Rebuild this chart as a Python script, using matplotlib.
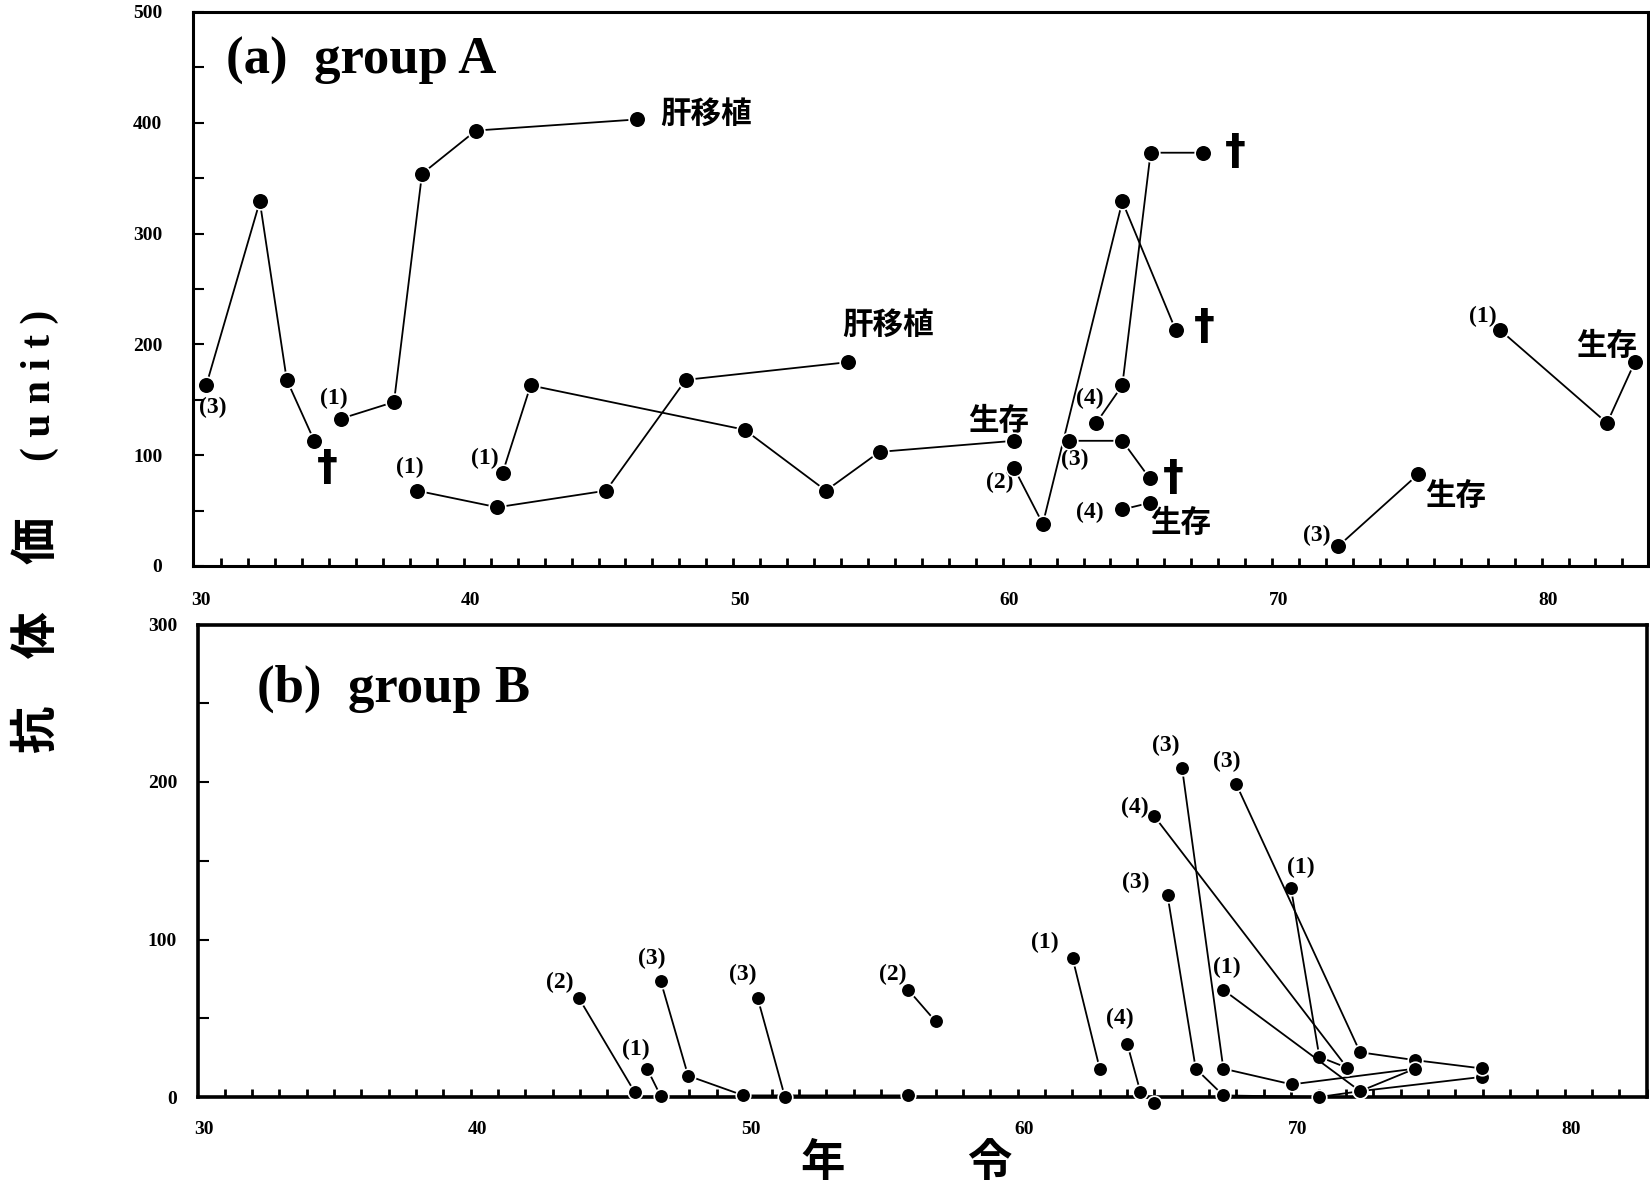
import numpy as np
import matplotlib
matplotlib.use('Agg')
import matplotlib.pyplot as plt

# (a) group A  -- one list per patient
a_ages = [
    [30.19, 32.18, 33.18, 34.2],
    [35.2, 37.16, 38.2, 40.2, 46.16],
    [38.01, 40.99, 45.03, 47.99, 54.02],
    [41.19, 42.23, 50.17, 53.19, 55.18, 60.17],
    [60.18, 61.24, 64.19, 66.17],
    [63.22, 64.19, 65.24, 67.19],
    [62.2, 64.19, 65.21],
    [64.19, 65.21],
    [72.21, 75.18],
    [78.21, 82.18, 83.21],
]
a_vals = [
    [163, 329, 168, 113],
    [133, 148, 354, 393, 403],
    [68, 53, 68, 168, 184],
    [84, 163, 123, 68, 103, 113],
    [88, 38, 329, 213],
    [129, 163, 373, 373],
    [113, 113, 79],
    [51, 57],
    [18, 83],
    [213, 129, 184],
]
a_tags = ['(3)', '(1)', '(1)', '(1)', '(2)', '(4)', '(3)', '(4)', '(3)', '(1)']
a_tag_x = [30.45, 34.93, 37.74, 40.53, 59.64, 63.0, 62.44, 63.0, 71.41, 77.57]
a_tag_y = [143, 151, 89, 97, 75, 151, 96, 48, 28, 225]
a_notes = ['肝移植', '肝移植', '生存', '生存', '生存', '生存']
a_note_x = [48.75, 55.51, 59.6, 66.34, 76.57, 82.18]
a_note_y = [408, 218, 131, 39, 63, 199]
a_dagger_x = [34.67, 68.37, 67.24, 66.1]
a_dagger_y = [88, 374, 216, 79]

# (b) group B
b_ages = [
    [43.7, 45.75],
    [46.2, 46.7],
    [46.7, 47.7, 49.72, 55.75],
    [50.24, 51.24],
    [55.75, 56.75],
    [61.76, 62.75],
    [63.76, 64.24, 64.73],
    [64.73, 71.8],
    [65.23, 66.26, 67.27, 70.78, 72.27, 76.74],
    [65.76, 67.27, 69.77, 74.28],
    [69.74, 70.78, 71.8],
    [67.74, 72.27, 74.28, 76.74],
    [67.27, 72.27, 74.28],
]
b_vals = [
    [63, 3],
    [18, 0.5],
    [73.5, 13.5, 1, 1],
    [63, 0],
    [68, 48],
    [88, 18],
    [33.5, 3, -3.5],
    [178.6, 18.5],
    [128, 18, 1, 0, 3.7, 12.8],
    [209, 18, 8, 18],
    [133, 25.5, 18.5],
    [198.7, 28.4, 23.4, 18.1],
    [68, 3.7, 18],
]
b_tags = ['(2)', '(1)', '(3)', '(3)', '(2)', '(1)', '(4)', '(4)', '(3)', '(3)', '(1)', '(3)', '(1)']
b_tag_x = [43.02, 45.8, 46.36, 49.68, 55.2, 60.75, 63.48, 64.02, 64.05, 65.17, 70.12, 67.39, 67.39]
b_tag_y = [73, 30, 88, 78, 78, 98, 50, 184, 136, 223, 146, 213, 82.5]

x_labels = [30, 40, 50, 60, 70, 80]

serif = 'Liberation Serif'
cjk = 'Noto Sans CJK JP'

fig = plt.figure(figsize=(16.5, 11.88), dpi=100)
ax1 = fig.add_axes([193/1650, 1-566/1188, (1648-193)/1650, (566-12)/1188])
ax2 = fig.add_axes([198/1650, 1-1097/1188, (1647-198)/1650, (1097-624.5)/1188])


def style_axis(ax, xlim, ymax, xpad, ypad, lw):
    ax.set_xlim(*xlim)
    ax.set_ylim(0, ymax)
    for s in ax.spines.values():
        s.set_linewidth(lw)
    ax.set_xticks(x_labels)
    ax.set_xticklabels([str(v) for v in x_labels])
    ax.set_xticks(np.arange(30.75, xlim[1], 1), minor=True)
    ax.set_yticks(np.arange(0, ymax + 1, 100))
    ax.set_yticks(np.arange(50, ymax, 100), minor=True)
    ax.tick_params(axis='x', which='major', length=0, pad=xpad)
    ax.tick_params(axis='x', which='minor', direction='in', length=6, width=2)
    ax.tick_params(axis='y', which='both', direction='in', length=8, width=1.5, pad=ypad)
    for lab in ax.get_xticklabels() + ax.get_yticklabels():
        lab.set_fontfamily(serif)
        lab.set_fontweight('bold')
        lab.set_fontsize(14)


style_axis(ax1, (29.7, 83.7), 500, 19, 22, 2.2)
style_axis(ax2, (29.78, 82.76), 300, 17, 15, 2.6)

for xs, ys in zip(a_ages, a_vals):
    ax1.plot(xs, ys, color='black', lw=1.3, marker='o', ms=12, mfc='black',
             mec='white', mew=1.2, clip_on=False, zorder=5)
for xs, ys in zip(b_ages, b_vals):
    ax2.plot(xs, ys, color='black', lw=1.3, marker='o', ms=10.5, mfc='black',
             mec='white', mew=1.2, clip_on=False, zorder=5)

for t, x, y in zip(a_tags, a_tag_x, a_tag_y):
    ax1.text(x, y, t, fontsize=17, fontfamily=serif, fontweight='bold', ha='center', va='center')
for t, x, y in zip(a_notes, a_note_x, a_note_y):
    ax1.text(x, y, t, fontsize=22, fontfamily=cjk, fontweight='bold', ha='center', va='center')
for x, y in zip(a_dagger_x, a_dagger_y):
    ax1.text(x, y, '†', fontsize=30, fontfamily='DejaVu Sans', fontweight='bold', ha='center', va='center')
for t, x, y in zip(b_tags, b_tag_x, b_tag_y):
    ax2.text(x, y, t, fontsize=17, fontfamily=serif, fontweight='bold', ha='center', va='center')

ax1.text(0.0227, 0.912, '(a)  group A', transform=ax1.transAxes, fontsize=38,
         fontfamily=serif, fontweight='bold', ha='left', va='center')
ax2.text(0.0407, 0.8635, '(b)  group B', transform=ax2.transAxes, fontsize=38,
         fontfamily=serif, fontweight='bold', ha='left', va='center')

# shared axis titles
fig.text(37/1650, 1-635/1188, '抗　体　価', rotation=90, fontsize=34, fontfamily=cjk,
         fontweight='bold', ha='center', va='center')
fig.text(40/1650, 1-385/1188, '( u n i t )', rotation=90, fontsize=30, fontfamily=serif,
         fontweight='bold', ha='center', va='center')
fig.text(823/1650, 1-1163/1188, '年', fontsize=32, fontfamily=cjk, fontweight='bold', ha='center', va='center')
fig.text(989/1650, 1-1163/1188, '令', fontsize=32, fontfamily=cjk, fontweight='bold', ha='center', va='center')

fig.savefig('out.png', dpi=100)
